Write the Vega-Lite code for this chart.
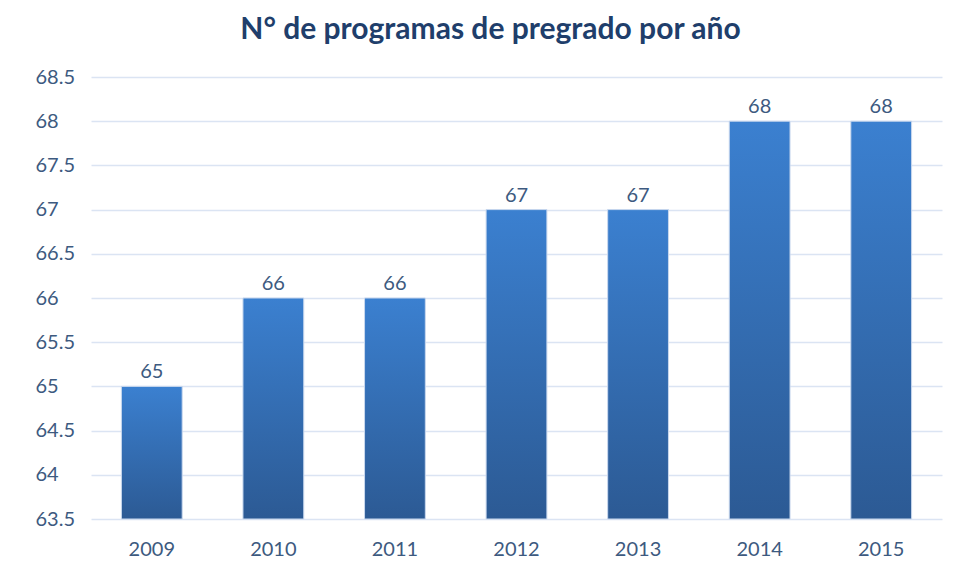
{
  "$schema": "https://vega.github.io/schema/vega-lite/v6.json",
  "width": 851,
  "height": 442,
  "autosize": "none",
  "padding": {"left": 91, "top": 77, "right": 12, "bottom": 62},
  "background": "white",
  "title": {
    "text": "N° de programas de pregrado por año",
    "font": "Lato",
    "fontSize": 30,
    "fontWeight": "bold",
    "color": "#203e6b",
    "anchor": "middle",
    "dx": -26,
    "offset": 22
  },
  "data": {
    "values": [
      {"year": "2009", "n": 65},
      {"year": "2010", "n": 66},
      {"year": "2011", "n": 66},
      {"year": "2012", "n": 67},
      {"year": "2013", "n": 67},
      {"year": "2014", "n": 68},
      {"year": "2015", "n": 68}
    ]
  },
  "encoding": {
    "x": {
      "field": "year",
      "type": "ordinal",
      "scale": {"paddingInner": 0.5, "paddingOuter": 0.25},
      "axis": {
        "title": null,
        "labelAngle": 0,
        "labelFont": "Lato",
        "labelFontSize": 20,
        "labelColor": "#3d5a80",
        "labelPadding": 20,
        "ticks": false,
        "domain": false
      }
    },
    "y": {
      "field": "n",
      "type": "quantitative",
      "scale": {"domain": [63.5, 68.5], "nice": false, "zero": false},
      "axis": {
        "title": null,
        "values": [63.5, 64, 64.5, 65, 65.5, 66, 66.5, 67, 67.5, 68, 68.5],
        "format": ".3~g",
        "labelFont": "Lato",
        "labelFontSize": 20,
        "labelColor": "#3d5a80",
        "labelAlign": "left",
        "labelPadding": 56,
        "ticks": false,
        "domain": false,
        "gridColor": "#dbe4f3",
        "gridWidth": 1.5
      }
    }
  },
  "layer": [
    {
      "mark": {
        "type": "bar",
        "stroke": "#c9d8ee",
        "strokeWidth": 1,
        "color": {
          "gradient": "linear",
          "x1": 0, "y1": 0, "x2": 0, "y2": 1,
          "stops": [
            {"offset": 0, "color": "#3b80d0"},
            {"offset": 1, "color": "#2c5a94"}
          ]
        }
      },
      "encoding": {"y2": {"datum": 63.5}}
    },
    {
      "mark": {
        "type": "text",
        "dy": -14,
        "font": "Lato",
        "fontSize": 20,
        "color": "#3d5a80"
      },
      "encoding": {"text": {"field": "n", "type": "quantitative"}}
    }
  ],
  "config": {"view": {"stroke": null}}
}
